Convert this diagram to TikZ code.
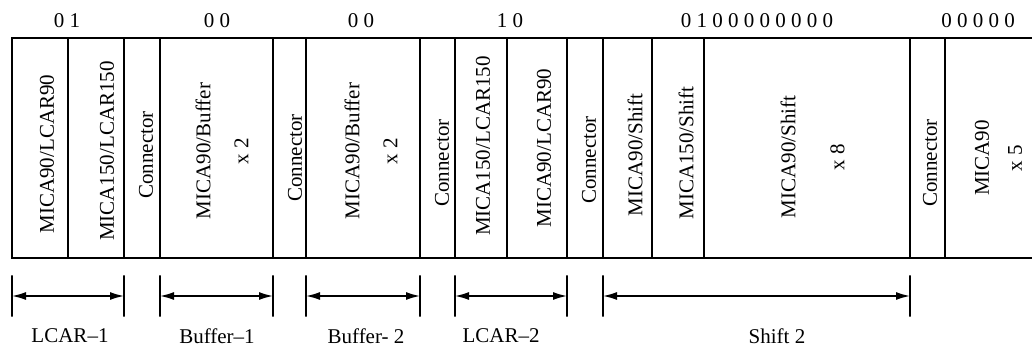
\documentclass[tikz,border=0pt]{standalone}
\usepackage{fontspec}
\setmainfont{Liberation Serif}
\usetikzlibrary{arrows.meta}
\begin{document}
\begin{tikzpicture}[x=1pt,y=-1pt,
  cell/.style={draw, line width=1.8pt, minimum height=220pt, inner sep=0pt, outer sep=0pt},
  opencell/.style={minimum height=220pt, inner sep=0pt, outer sep=0pt},
  frame/.style={line width=1.8pt},
  vtext/.style={rotate=90, font=\fontsize{21}{25}\selectfont, inner sep=0pt, align=center},
  bits/.style={font=\fontsize{21}{25}\selectfont, inner sep=0pt},
  lbl/.style={font=\fontsize{21}{25}\selectfont, inner sep=0pt},
  tickmark/.style={draw, line width=1.8pt, minimum height=41pt, minimum width=0pt, inner sep=0pt, outer sep=0pt},
  dim/.style={line width=1.5pt, {Latex[length=14pt,width=8pt]}-{Latex[length=14pt,width=8pt]}}
]
\useasboundingbox (0,0) rectangle (1032,352);

% module cells along the strip
\node[cell, minimum width=56pt]  (c1)  at (40,148)    {};
\node[cell, minimum width=56pt]  (c2)  at (96,148)    {};
\node[cell, minimum width=36pt]  (c3)  at (142,148)   {};
\node[cell, minimum width=113pt] (c4)  at (216.5,148) {};
\node[cell, minimum width=33pt]  (c5)  at (289.5,148) {};
\node[cell, minimum width=114pt] (c6)  at (363,148)   {};
\node[cell, minimum width=35pt]  (c7)  at (437.5,148) {};
\node[cell, minimum width=52pt]  (c8)  at (481,148)   {};
\node[cell, minimum width=60pt]  (c9)  at (537,148)   {};
\node[cell, minimum width=36pt]  (c10) at (585,148)   {};
\node[cell, minimum width=49pt]  (c11) at (627.5,148) {};
\node[cell, minimum width=52pt]  (c12) at (678,148)   {};
\node[cell, minimum width=206pt] (c13) at (807,148)   {};
\node[cell, minimum width=35pt]  (c14) at (927.5,148) {};
\node[opencell, minimum width=87pt] (c15) at (988.5,148) {};
\draw[frame] (c15.north west) -- (c15.north east) (c15.south west) -- (c15.south east);

% cell texts
\node[vtext] (t1)  at (47,154)    {MICA90/LCAR90};
\node[vtext] (t2)  at (107,151)   {MICA150/LCAR150};
\node[vtext] (t3)  at (146,155)   {Connector};
\node[vtext] (t4)  at (222,151)   {MICA90/Buffer\\[13pt]x 2};
\node[vtext] (t5)  at (295,158)   {Connector};
\node[vtext] (t6)  at (371,151)   {MICA90/Buffer\\[13pt]x 2};
\node[vtext] (t7)  at (442,163)   {Connector};
\node[vtext] (t8)  at (483,146)   {MICA150/LCAR150};
\node[vtext] (t9)  at (544,148)   {MICA90/LCAR90};
\node[vtext] (t10) at (589,160)   {Connector};
\node[vtext] (t11) at (635,155)   {MICA90/Shift};
\node[vtext] (t12) at (686,153)   {MICA150/Shift};
\node[vtext] (t13) at (812.5,157) {MICA90/Shift\\[24pt]x 8};
\node[vtext] (t14) at (930,163)   {Connector};
\node[vtext] (t15) at (998.5,158) {MICA90\\[8pt]x 5};

% bit patterns above the strip
\node[bits] (b1) at (67,21)  {0 1};
\node[bits] (b2) at (217,21) {0 0};
\node[bits] (b3) at (361,21) {0 0};
\node[bits] (b4) at (510,21) {1 0};
\node[bits] (b5) at (757,21) {0 1 0 0 0 0 0 0 0 0};
\node[bits] (b6) at (978,21) {0 0 0 0 0};

% section extents
\coordinate (dimrow) at (0,296);
\node[tickmark] (l1) at (c1.west |- dimrow)  {};
\node[tickmark] (r1) at (c2.east |- dimrow)  {};
\node[tickmark] (l2) at (c4.west |- dimrow)  {};
\node[tickmark] (r2) at (c4.east |- dimrow)  {};
\node[tickmark] (l3) at (c6.west |- dimrow)  {};
\node[tickmark] (r3) at (c6.east |- dimrow)  {};
\node[tickmark] (l4) at (c8.west |- dimrow)  {};
\node[tickmark] (r4) at (c9.east |- dimrow)  {};
\node[tickmark] (l5) at (c11.west |- dimrow) {};
\node[tickmark] (r5) at (c13.east |- dimrow) {};
\draw[dim] (l1) -- (r1);
\draw[dim] (l2) -- (r2);
\draw[dim] (l3) -- (r3);
\draw[dim] (l4) -- (r4);
\draw[dim] (l5) -- (r5);

% section names
\node[lbl] (n1) at (70,336)  {LCAR--1};
\node[lbl] (n2) at (217,336) {Buffer--1};
\node[lbl] (n3) at (366,336) {Buffer- 2};
\node[lbl] (n4) at (501,336) {LCAR--2};
\node[lbl] (n5) at (777,336) {Shift 2};
\end{tikzpicture}
\end{document}
